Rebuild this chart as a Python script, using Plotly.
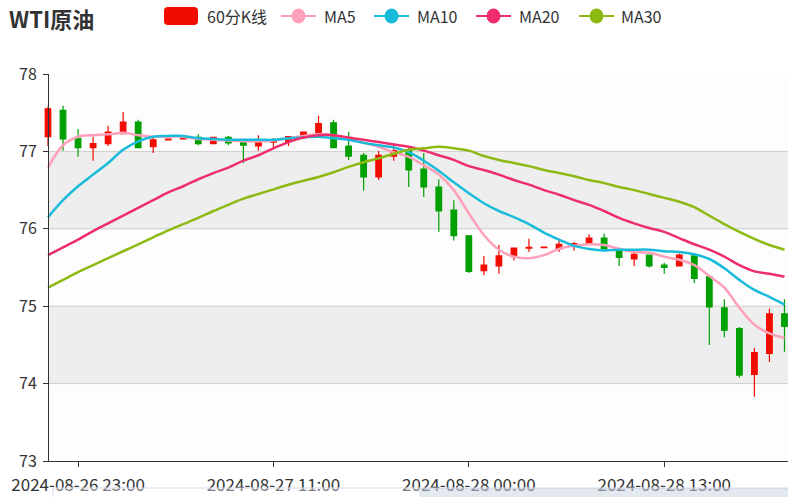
import plotly.graph_objects as go

# ---------------- data ----------------
opens = [77.19, 77.53, 77.17, 77.05, 77.10, 77.23, 77.38, 77.06, 77.15, 77.16,
         77.18, 77.10, 77.18, 77.13, 77.07, 77.12, 77.13, 77.19, 77.24, 77.37,
         77.07, 76.95, 76.67, 76.94, 77.02, 76.77, 76.54, 76.24, 75.91, 75.46,
         75.52, 75.64, 75.75, 75.755, 75.74, 75.80, 75.80, 75.88, 75.74, 75.61,
         75.66, 75.53, 75.52, 75.65, 75.38, 74.98, 74.71, 74.12, 74.39, 74.90]
highs = [77.58, 77.59, 77.29, 77.19, 77.33, 77.51, 77.41, 77.18, 77.16, 77.17,
         77.22, 77.18, 77.20, 77.13, 77.21, 77.17, 77.20, 77.25, 77.46, 77.41,
         77.25, 76.98, 77.01, 77.08, 77.05, 76.98, 76.64, 76.37, 75.91, 75.65,
         75.79, 75.75, 75.87, 75.765, 75.87, 75.83, 75.93, 75.94, 75.76, 75.69,
         75.66, 75.56, 75.68, 75.65, 75.40, 75.09, 74.73, 74.46, 74.97, 75.09]
lows = [77.07, 77.01, 76.93, 76.88, 77.07, 77.22, 77.04, 76.98, 77.15, 77.16,
        77.08, 77.10, 77.08, 76.85, 77.01, 77.05, 77.07, 77.16, 77.24, 77.05,
        76.89, 76.49, 76.63, 76.88, 76.54, 76.41, 75.96, 75.85, 75.43, 75.40,
        75.42, 75.59, 75.70, 75.755, 75.70, 75.72, 75.80, 75.73, 75.52, 75.52,
        75.50, 75.42, 75.52, 75.30, 74.50, 74.60, 74.08, 73.83, 74.28, 74.41]
closes = [77.55, 77.16, 77.05, 77.10, 77.25, 77.38, 77.05, 77.15, 77.16, 77.17,
          77.10, 77.18, 77.11, 77.08, 77.13, 77.13, 77.19, 77.25, 77.36, 77.05,
          76.94, 76.67, 76.95, 77.01, 76.76, 76.54, 76.23, 75.91, 75.45, 75.53,
          75.65, 75.75, 75.76, 75.765, 75.80, 75.81, 75.88, 75.74, 75.63, 75.67,
          75.52, 75.50, 75.66, 75.36, 74.99, 74.69, 74.11, 74.40, 74.90, 74.74]

ma5 = [76.79, 77.08, 77.19, 77.21, 77.22, 77.24, 77.21, 77.19, 77.19, 77.19,
       77.16, 77.15, 77.14, 77.13, 77.13, 77.14, 77.17, 77.20, 77.22, 77.21,
       77.16, 77.11, 77.06, 76.99, 76.93, 76.82, 76.70, 76.50, 76.20, 75.92,
       75.73, 75.64, 75.62, 75.66, 75.74, 75.78, 75.80, 75.79, 75.74, 75.70,
       75.69, 75.64, 75.60, 75.53, 75.39, 75.24, 74.98, 74.76, 74.65, 74.59]
ma10 = [76.15, 76.37, 76.55, 76.70, 76.85, 77.02, 77.13, 77.19, 77.20, 77.20,
        77.17, 77.16, 77.15, 77.15, 77.15, 77.15, 77.17, 77.18, 77.19, 77.17,
        77.15, 77.11, 77.08, 77.05, 76.99, 76.88, 76.75, 76.60, 76.46, 76.33,
        76.23, 76.15, 76.06, 75.95, 75.86, 75.78, 75.74, 75.72, 75.73, 75.73,
        75.73, 75.71, 75.70, 75.67, 75.61, 75.49, 75.34, 75.21, 75.12, 75.02]
ma20 = [75.66, 75.76, 75.86, 75.97, 76.07, 76.17, 76.27, 76.37, 76.47, 76.55,
        76.64, 76.72, 76.79, 76.88, 76.95, 77.04, 77.12, 77.18, 77.21, 77.21,
        77.18, 77.15, 77.12, 77.09, 77.06, 77.01, 76.95, 76.89, 76.81, 76.76,
        76.70, 76.63, 76.57, 76.50, 76.44, 76.37, 76.31, 76.23, 76.14, 76.07,
        76.01, 75.96, 75.88, 75.80, 75.73, 75.64, 75.53, 75.45, 75.42, 75.38]
ma30 = [75.24, 75.34, 75.44, 75.53, 75.62, 75.71, 75.80, 75.89, 75.98, 76.06,
        76.14, 76.23, 76.31, 76.39, 76.45, 76.51, 76.57, 76.62, 76.67, 76.73,
        76.80, 76.86, 76.91, 76.97, 77.02, 77.04, 77.06, 77.04, 77.01, 76.94,
        76.89, 76.85, 76.81, 76.76, 76.72, 76.68, 76.63, 76.59, 76.54, 76.50,
        76.45, 76.40, 76.35, 76.28, 76.17, 76.06, 75.96, 75.87, 75.79, 75.73]

tick_idx = [2, 15, 28, 41]
tick_labels = ["2024-08-26 23:00", "2024-08-27 11:00", "2024-08-28 00:00", "2024-08-28 13:00"]
y_ticks = [73, 74, 75, 76, 77, 78]

title_text = "WTI原油"
legend_names = ["60分K线", "MA5", "MA10", "MA20", "MA30"]

# ---------------- style ----------------
RED = "#F20C00"
GREEN = "#00A000"
MA_COLORS = ["#FFA0B9", "#18BCDA", "#EE2E6C", "#8CBA12"]
TXT = "#333333"
FONT = "Noto Sans CJK SC, Microsoft YaHei, sans-serif"

W, H = 788, 497
L, R, T, B = 43, 788, 74, 461
PW, PH = R - L, B - T


def px(x):
    return (x - L) / PW


def py(y):
    return (B - y) / PH


x = list(range(len(opens)))
fig = go.Figure()

for vals, col in zip([ma5, ma10, ma20, ma30], MA_COLORS):
    fig.add_trace(go.Scatter(
        x=x, y=vals, mode="lines", hoverinfo="skip", showlegend=False,
        line=dict(color=col, width=2.5, shape="spline", smoothing=1.0)))

fig.add_trace(go.Candlestick(
    x=x, open=opens, high=highs, low=lows, close=closes, showlegend=False,
    increasing=dict(line=dict(color=RED, width=1.2), fillcolor=RED),
    decreasing=dict(line=dict(color=GREEN, width=1.2), fillcolor=GREEN),
    whiskerwidth=0))

shapes = []
band_cols = ["#FDFDFD", "#EEEEEE"]
for k, lo in enumerate(y_ticks[:-1]):
    shapes.append(dict(type="rect", xref="paper", yref="y", x0=px(48), x1=1,
                       y0=lo, y1=lo + 1, fillcolor=band_cols[k % 2],
                       line=dict(width=0), layer="below"))
for v in y_ticks[1:-1]:
    shapes.append(dict(type="line", xref="paper", yref="y", x0=px(48), x1=1,
                       y0=v, y1=v, line=dict(color="#CCCCCC", width=1), layer="below"))

# bottom data-zoom slider (partly visible, overlapping the tick labels)
shapes.append(dict(type="rect", xref="paper", yref="paper", x0=px(53), x1=px(800),
                   y0=py(500), y1=py(488), fillcolor="rgba(255,255,255,0.35)",
                   line=dict(color="#D2DBEE", width=1), layer="above"))
shapes.append(dict(type="rect", xref="paper", yref="paper", x0=px(419), x1=px(800),
                   y0=py(500), y1=py(488), fillcolor="rgba(167,183,204,0.3)",
                   line=dict(width=0), layer="above"))

# legend: candle icon
x0i, x1i, y0i, y1i, r = 164, 198, 7, 25, 4
path = (f"M {px(x0i + r)},{py(y0i)} L {px(x1i - r)},{py(y0i)} "
        f"Q {px(x1i)},{py(y0i)} {px(x1i)},{py(y0i + r)} "
        f"L {px(x1i)},{py(y1i - r)} Q {px(x1i)},{py(y1i)} {px(x1i - r)},{py(y1i)} "
        f"L {px(x0i + r)},{py(y1i)} Q {px(x0i)},{py(y1i)} {px(x0i)},{py(y1i - r)} "
        f"L {px(x0i)},{py(y0i + r)} Q {px(x0i)},{py(y0i)} {px(x0i + r)},{py(y0i)} Z")
shapes.append(dict(type="path", xref="paper", yref="paper", path=path,
                   fillcolor=RED, line=dict(width=0)))

annotations = [dict(text=f"<b>{title_text}</b>", xref="paper", yref="paper",
                    x=px(7), y=py(18), xanchor="left", yanchor="middle",
                    showarrow=False, font=dict(size=22, color=TXT, family=FONT))]
annotations.append(dict(text=legend_names[0], xref="paper", yref="paper",
                        x=px(205), y=py(16), xanchor="left", yanchor="middle",
                        showarrow=False, font=dict(size=16, color=TXT, family=FONT)))

icon_x = [281, 374, 476, 579]
text_x = [322, 415, 517, 619]
for ix, tx, col, name in zip(icon_x, text_x, MA_COLORS, legend_names[1:]):
    shapes.append(dict(type="line", xref="paper", yref="paper", x0=px(ix), x1=px(ix + 35),
                       y0=py(16), y1=py(16), line=dict(color=col, width=2)))
    cx = ix + 17.5
    shapes.append(dict(type="circle", xref="paper", yref="paper",
                       x0=px(cx - 7), x1=px(cx + 7), y0=py(16 - 7.5), y1=py(16 + 7.5),
                       fillcolor=col, line=dict(width=0)))
    annotations.append(dict(text=name, xref="paper", yref="paper",
                            x=px(tx), y=py(16), xanchor="left", yanchor="middle",
                            showarrow=False, font=dict(size=16, color=TXT, family=FONT)))

fig.update_layout(
    width=W, height=H,
    margin=dict(l=L, r=W - R, t=T, b=H - B, pad=0),
    paper_bgcolor="white", plot_bgcolor="white",
    font=dict(family=FONT, color=TXT),
    showlegend=False, boxgap=0.47,
    shapes=shapes, annotations=annotations,
    xaxis=dict(range=[-5 / 15.03, 49.235], showgrid=False, zeroline=False,
               showline=True, linecolor=TXT, linewidth=1,
               ticks="outside", ticklen=5, tickcolor=TXT,
               tickvals=tick_idx, ticktext=tick_labels, ticklabelstandoff=4,
               tickfont=dict(size=17, color=TXT, family=FONT),
               rangeslider=dict(visible=False), fixedrange=True),
    yaxis=dict(range=[73, 78], anchor="free", position=px(48),
               showgrid=False, zeroline=False, showline=True, linecolor=TXT, linewidth=1,
               ticks="outside", ticklen=5, tickcolor=TXT, ticklabelstandoff=3,
               tickvals=y_ticks, ticktext=[str(v) for v in y_ticks],
               tickfont=dict(size=16, color=TXT, family=FONT), fixedrange=True),
)

fig.write_html("out.html")
